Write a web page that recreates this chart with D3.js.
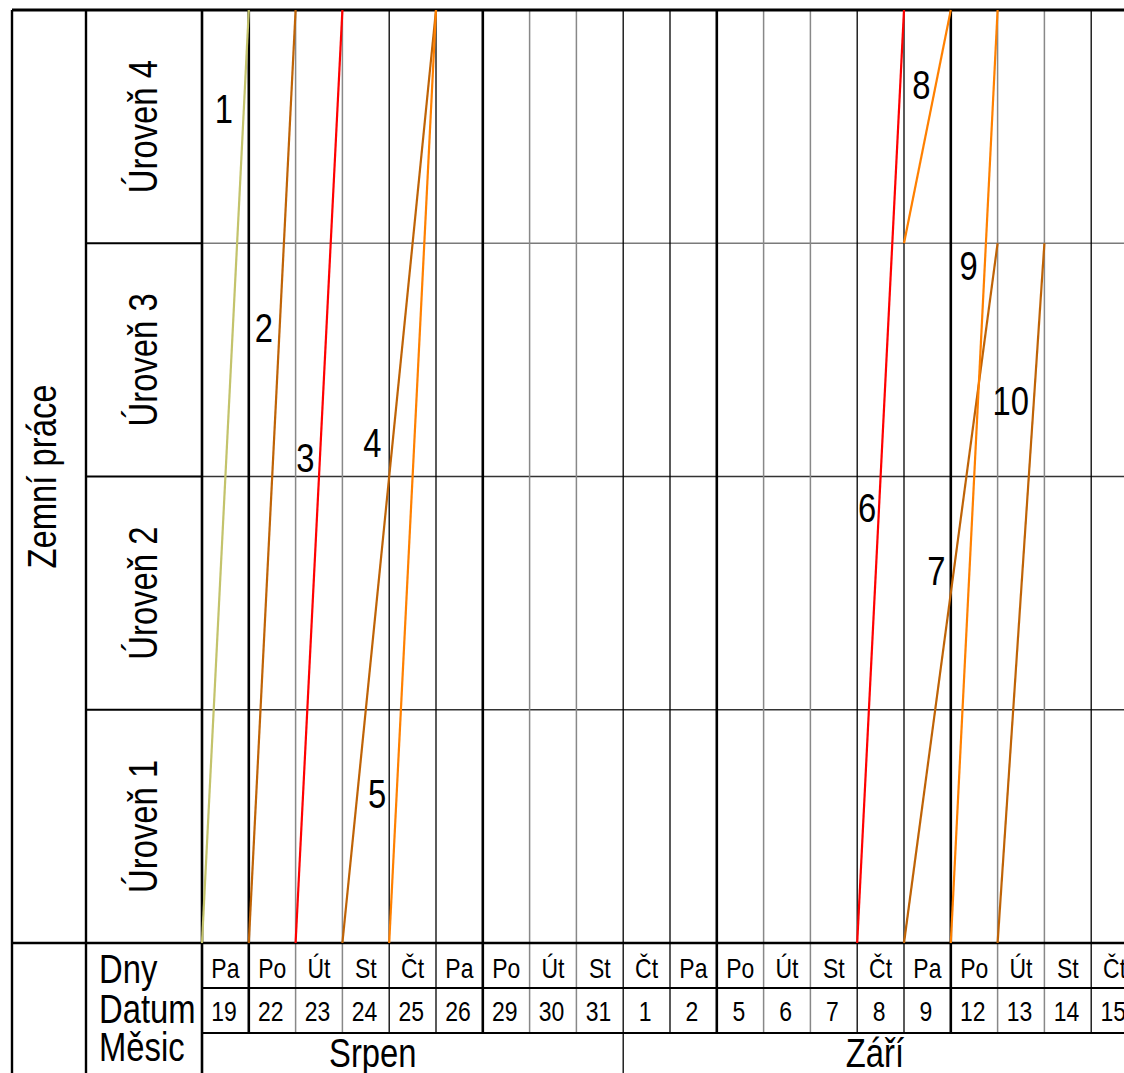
<!DOCTYPE html>
<html>
<head>
<meta charset="utf-8">
<script src="https://cdn.jsdelivr.net/npm/d3@7"></script>
<style>
html,body{margin:0;padding:0;background:#fff;overflow:hidden;}
svg{display:block;}
text{font-family:"Liberation Sans",Arial,sans-serif;fill:#000;}
</style>
</head>
<body>
<script>
// ---------- DATA ----------
const sectionTitle = "Zemní práce";
const levels = ["Úroveň 1", "Úroveň 2", "Úroveň 3", "Úroveň 4"];
const dayNames = ["Pa","Po","Út","St","Čt","Pa","Po","Út","St","Čt","Pa","Po","Út","St","Čt","Pa","Po","Út","St","Čt"];
const dates = [19,22,23,24,25,26,29,30,31,1,2,5,6,7,8,9,12,13,14,15];
const rowLabels = ["Dny", "Datum", "Měsic"];
const months = ["Srpen", "Září"];
const monthStartDay = [0, 9];
const monthLabelDay = [3.65, 14.38];

// tasks: start (day index, level) -> end (day index, level)
const taskIds    = ["1","2","3","4","5","6","7","8","9","10"];
const taskStartX = [0, 1, 2, 3, 4, 14, 15, 15, 16, 17];
const taskStartL = [0, 0, 0, 0, 0, 0, 0, 3, 0, 0];
const taskEndX   = [1, 2, 3, 5, 5, 15, 17, 16, 17, 18];
const taskEndL   = [4, 4, 4, 4, 4, 4, 3, 4, 4, 3];
const taskCrew   = ["olive","brown","red","brown","orange","red","brown","orange","orange","brown"];
// label anchors (day index, level)
const labelX     = [0.47, 1.32, 2.21, 3.64, 3.74, 14.21, 15.69, 15.37, 16.38, 17.28];
const labelL     = [3.515, 2.577, 2.019, 2.084, 0.579, 1.805, 1.535, 3.618, 2.842, 2.264];

// ---------- STYLE / LAYOUT ----------
const crewColor = {olive:"#c3c36b", brown:"#bf6306", red:"#ff0000", orange:"#ff8000"};
const W = 1124, H = 1073;
const NARROW = 0.82;
const L0 = 12, L1 = 86, L2 = 202;   // left column edges
const TOP = 10, GB = 943, R1 = 988, R2 = 1033;
const colW = 46.8;

const svg = d3.select("body").append("svg").attr("width", W).attr("height", H);

const x = d3.scaleLinear().domain([0, 20]).range([L2, L2 + 20 * colW]);
const y = d3.scaleLinear().domain([0, 4]).range([GB, TOP]);

function txt(s, px, py, size, opts = {}) {
  const rot = opts.rotate ? " rotate(-90)" : "";
  return svg.append("text")
    .attr("transform", `translate(${px},${py})${rot} scale(${NARROW},1)`)
    .attr("text-anchor", opts.anchor || "middle")
    .attr("font-size", size)
    .text(s);
}

const gGrid = svg.append("g");

// level horizontal lines inside grid
[1, 2, 3].forEach(l => {
  gGrid.append("line").attr("x1", L2).attr("x2", W).attr("y1", y(l)).attr("y2", y(l))
    .attr("stroke", l === 3 ? "#7a7a7a" : "#333").attr("stroke-width", l === 3 ? 1.6 : 1.4);
  gGrid.append("line").attr("x1", L1).attr("x2", L2).attr("y1", y(l)).attr("y2", y(l))
    .attr("stroke", "#000").attr("stroke-width", 2);
});

// vertical day lines
d3.range(0, 21).forEach(k => {
  const dn = dayNames[k] || "Pa";
  let stroke = "#000", sw = 1.3;
  if (k === 0 || dn === "Po") { stroke = "#000"; sw = 2.6; }
  else if (dn === "Út" || dn === "St") { stroke = "#888"; sw = 1.5; }
  gGrid.append("line").attr("x1", x(k)).attr("x2", x(k))
    .attr("y1", TOP).attr("y2", k === 0 ? H : R2)
    .attr("stroke", stroke).attr("stroke-width", sw);
});

// frame lines
const frame = svg.append("g").attr("stroke", "#000");
frame.append("line").attr("x1", L0).attr("x2", W).attr("y1", TOP).attr("y2", TOP).attr("stroke-width", 3);
frame.append("line").attr("x1", L0).attr("x2", L0).attr("y1", TOP).attr("y2", H).attr("stroke-width", 2.4);
frame.append("line").attr("x1", L1).attr("x2", L1).attr("y1", TOP).attr("y2", H).attr("stroke-width", 2.4);
frame.append("line").attr("x1", L0).attr("x2", W).attr("y1", GB).attr("y2", GB).attr("stroke-width", 2.4);
frame.append("line").attr("x1", L2).attr("x2", W).attr("y1", R1).attr("y2", R1).attr("stroke-width", 1.8);
frame.append("line").attr("x1", L2).attr("x2", W).attr("y1", R2).attr("y2", R2).attr("stroke-width", 2.2);
monthStartDay.slice(1).forEach(d => {
  frame.append("line").attr("x1", x(d)).attr("x2", x(d)).attr("y1", R2).attr("y2", H).attr("stroke-width", 1.3);
});

// task lines
const gTasks = svg.append("g");
taskIds.forEach((id, i) => {
  gTasks.append("line")
    .attr("x1", x(taskStartX[i])).attr("y1", y(taskStartL[i]))
    .attr("x2", x(taskEndX[i])).attr("y2", y(taskEndL[i]))
    .attr("stroke", crewColor[taskCrew[i]]).attr("stroke-width", 2.2);
});
taskIds.forEach((id, i) => {
  txt(id, x(labelX[i]), y(labelL[i]), 40);
});

// left labels
txt(sectionTitle, 56, (TOP + GB) / 2, 40, {rotate: true});
levels.forEach((lab, i) => {
  txt(lab, 157, (y(i) + y(i + 1)) / 2, 40, {rotate: true});
});

// bottom table
txt(rowLabels[0], 99, 983, 40, {anchor: "start"});
txt(rowLabels[1], 99, 1023, 40, {anchor: "start"});
txt(rowLabels[2], 99, 1061, 40, {anchor: "start"});
dayNames.forEach((d, k) => txt(d, x(k + 0.5), 978, 28));
dates.forEach((d, k) => txt(String(d), x(k + 0.47), 1021, 28));
months.forEach((m, i) => txt(m, x(monthLabelDay[i]), 1067, 40));
</script>
</body>
</html>
